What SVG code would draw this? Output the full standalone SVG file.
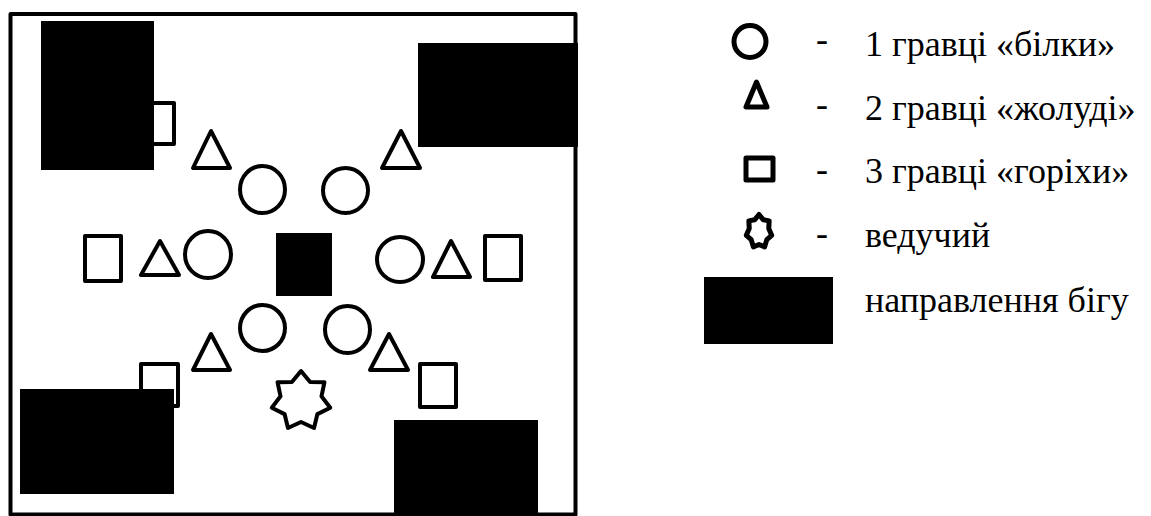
<svg xmlns="http://www.w3.org/2000/svg" width="1151" height="516" viewBox="0 0 1151 516">
<style>
.s{fill:none;stroke:#000;stroke-width:4;stroke-linejoin:round}
.ls{fill:none;stroke:#000;stroke-width:5;stroke-linejoin:round}
.blk{fill:#000}
.t{font-family:"Liberation Serif","DejaVu Serif",serif;font-size:36px;fill:#000}
</style>
<rect width="1151" height="516" fill="#fff"/>
<g id="frame"><rect class="s" x="10.5" y="14" width="565" height="500.5" stroke-linejoin="miter"/></g>
<g id="squares">
<rect class="s" x="138" y="103" width="36" height="41"/>
<rect class="s" x="436" y="103" width="36" height="42"/>
<rect class="s" x="85" y="236" width="36" height="45"/>
<rect class="s" x="485" y="236" width="36" height="44"/>
<rect class="s" x="141" y="364" width="37" height="42"/>
<rect class="s" x="420" y="364" width="36" height="43"/>
</g>
<g id="triangles">
<polygon class="s" points="211,131 193,168 230,168"/>
<polygon class="s" points="401,131 382,168 420,168"/>
<polygon class="s" points="160,241 141,275 179,275"/>
<polygon class="s" points="451,241 433,277 470,277"/>
<polygon class="s" points="211,334 193,370 230,370"/>
<polygon class="s" points="389,334 370,370 408,370"/>
</g>
<g id="circles">
<ellipse class="s" cx="262.5" cy="189.5" rx="22.5" ry="23.5"/>
<ellipse class="s" cx="345.5" cy="190.5" rx="22.5" ry="22.5"/>
<ellipse class="s" cx="208" cy="254.5" rx="23" ry="23.5"/>
<ellipse class="s" cx="400" cy="259.5" rx="23" ry="22.5"/>
<ellipse class="s" cx="262.5" cy="328" rx="22.5" ry="23"/>
<ellipse class="s" cx="347.5" cy="329.5" rx="22.5" ry="23.5"/>
</g>
<g id="leader">
<polygon class="s" points="301,371 310.11,382.08 324.45,382.29 321.47,396.33 330.25,407.68 317.42,414.09 314.02,428.03 301,422 287.98,428.03 284.58,414.09 271.75,407.68 280.53,396.33 277.55,382.29 291.89,382.08"/>
</g>
<g id="center-block"><rect class="blk" x="276" y="233" width="56" height="63"/></g>
<g id="run-blocks">
<rect class="blk" x="41" y="21" width="113" height="149"/>
<rect class="blk" x="418" y="43" width="160" height="104"/>
<rect class="blk" x="20" y="389" width="154" height="105"/>
<rect class="blk" x="394" y="420" width="144" height="96"/>
</g>
<g id="legend-squirrels">
<circle class="ls" cx="750" cy="41.5" r="16"/>
<text class="t" x="816" y="51">-</text>
<text class="t" x="865" y="56">1 гравці «білки»</text>
</g>
<g id="legend-acorns">
<polygon class="ls" points="756.5,82 746,107 767,107"/>
<text class="t" x="816" y="116">-</text>
<text class="t" x="865" y="120">2 гравці «жолуді»</text>
</g>
<g id="legend-nuts">
<rect class="ls" x="746" y="158" width="27" height="22"/>
<text class="t" x="816" y="181">-</text>
<text class="t" x="865" y="183">3 гравці «горіхи»</text>
</g>
<g id="legend-leader">
<polygon class="ls" points="759,214.5 763.34,219.79 769.16,220.9 768.75,228.61 771.67,235.28 766.82,239.61 764.64,246.82 759,244.5 753.36,246.82 751.18,239.61 746.33,235.28 749.25,228.61 748.84,220.9 754.66,219.79"/>
<text class="t" x="816" y="245">-</text>
<text class="t" x="865" y="247">ведучий</text>
</g>
<g id="legend-run">
<rect class="blk" x="704" y="277" width="129" height="67"/>
<text class="t" x="865" y="312">направлення бігу</text>
</g>
</svg>
